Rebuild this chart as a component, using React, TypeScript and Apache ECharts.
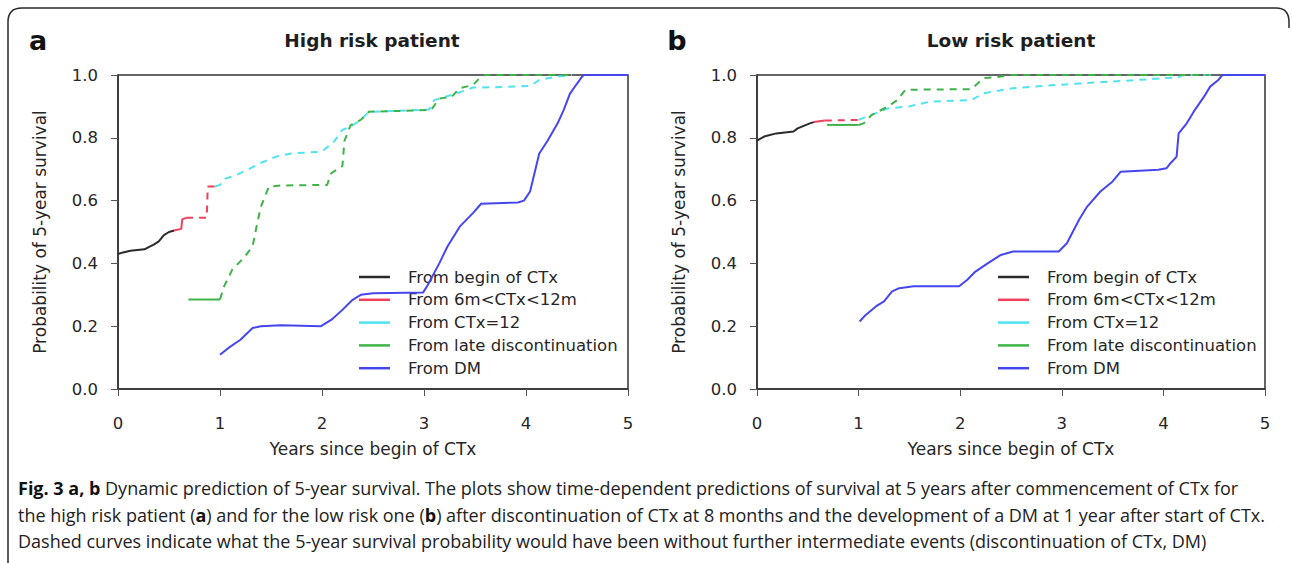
import React, { useEffect, useRef } from 'react';
import * as echarts from 'echarts';

// ---------- data ----------
const legendNames = ['From begin of CTx', 'From 6m<CTx<12m', 'From CTx=12', 'From late discontinuation', 'From DM'];
const lineColors = ['#2a2a2a', '#f0405a', '#4fe3f0', '#3fb24a', '#4646ee'];
const panelTitles = ['High risk patient', 'Low risk patient'];
const panelLetters = ['a', 'b'];
const xTitle = 'Years since begin of CTx';
const yTitle = 'Probability of 5-year survival';
const xTicks = [0, 1, 2, 3, 4, 5];
const yTicks = [0, 0.2, 0.4, 0.6, 0.8, 1.0];

// Panel a (high risk)
const aBegin = [[0, 0.43], [0.05, 0.435], [0.12, 0.44], [0.26, 0.445], [0.3, 0.452], [0.35, 0.46], [0.4, 0.47], [0.45, 0.49], [0.5, 0.5], [0.55, 0.505]];
const aMidSolid = [[0.55, 0.505], [0.62, 0.51], [0.63, 0.54], [0.667, 0.545]];
const aMidDash = [[0.667, 0.545], [0.87, 0.545], [0.88, 0.645], [0.95, 0.645]];
const aCtx12Dash = [[0.95, 0.645], [1.0, 0.65], [1.05, 0.67], [1.15, 0.68], [1.28, 0.7], [1.4, 0.72], [1.55, 0.74], [1.7, 0.75], [2.0, 0.756], [2.05, 0.77], [2.1, 0.78], [2.2, 0.825], [2.3, 0.84], [2.38, 0.857], [2.46, 0.883], [2.7, 0.885], [3.05, 0.89], [3.1, 0.92], [3.2, 0.93], [3.31, 0.94], [3.48, 0.96], [3.8, 0.962], [4.04, 0.965], [4.13, 0.984], [4.3, 0.995], [4.45, 1.0]];
const aLateSolid = [[0.69, 0.285], [1.0, 0.285]];
const aLateDash = [[1.0, 0.285], [1.04, 0.327], [1.12, 0.38], [1.24, 0.42], [1.32, 0.455], [1.36, 0.52], [1.4, 0.58], [1.48, 0.645], [1.6, 0.648], [2.05, 0.65], [2.09, 0.687], [2.2, 0.71], [2.22, 0.79], [2.28, 0.84], [2.38, 0.857], [2.46, 0.883], [2.7, 0.885], [3.07, 0.889], [3.15, 0.925], [3.27, 0.93], [3.35, 0.958], [3.48, 0.968], [3.56, 0.995], [3.6, 1.0], [4.45, 1.0]];
const aDM = [[1.0, 0.109], [1.08, 0.13], [1.2, 0.157], [1.32, 0.194], [1.4, 0.2], [1.6, 0.203], [1.99, 0.2], [2.09, 0.22], [2.2, 0.252], [2.3, 0.284], [2.38, 0.3], [2.5, 0.305], [2.99, 0.307], [3.03, 0.327], [3.15, 0.4], [3.23, 0.454], [3.35, 0.517], [3.48, 0.56], [3.56, 0.59], [3.92, 0.594], [3.98, 0.6], [4.04, 0.629], [4.13, 0.75], [4.21, 0.79], [4.31, 0.846], [4.37, 0.889], [4.43, 0.94], [4.49, 0.968], [4.55, 0.995], [4.57, 1.0], [5, 1.0]];

// Panel b (low risk)
const bBegin = [[0, 0.791], [0.07, 0.804], [0.19, 0.814], [0.36, 0.82], [0.4, 0.83], [0.52, 0.846], [0.56, 0.85]];
const bMidSolid = [[0.56, 0.85], [0.667, 0.855]];
const bMidDash = [[0.667, 0.855], [1.0, 0.857]];
const bCtx12Dash = [[1.0, 0.857], [1.13, 0.873], [1.29, 0.894], [1.5, 0.9], [1.7, 0.915], [2.11, 0.92], [2.23, 0.942], [2.52, 0.958], [2.93, 0.968], [3.33, 0.976], [3.74, 0.984], [4.15, 0.993], [4.19, 1.0], [4.5, 1.0]];
const bLateSolid = [[0.69, 0.841], [1.0, 0.841]];
const bLateDash = [[1.0, 0.841], [1.05, 0.846], [1.13, 0.873], [1.29, 0.9], [1.38, 0.92], [1.46, 0.953], [2.11, 0.955], [2.23, 0.99], [2.4, 0.995], [2.52, 1.0], [4.45, 1.0]];
const bDM = [[1.01, 0.215], [1.07, 0.236], [1.17, 0.263], [1.25, 0.279], [1.33, 0.311], [1.4, 0.321], [1.54, 0.327], [1.99, 0.327], [2.07, 0.348], [2.15, 0.374], [2.27, 0.4], [2.4, 0.427], [2.52, 0.438], [2.97, 0.438], [3.05, 0.464], [3.17, 0.539], [3.25, 0.581], [3.38, 0.629], [3.5, 0.661], [3.58, 0.692], [3.95, 0.698], [4.03, 0.703], [4.07, 0.719], [4.13, 0.74], [4.15, 0.814], [4.23, 0.846], [4.31, 0.889], [4.4, 0.931], [4.46, 0.963], [4.54, 0.984], [4.58, 1.0], [5, 1.0]];

const captionLines = [
  '{b|Fig. 3 a, b} Dynamic prediction of 5-year survival. The plots show time-dependent predictions of survival at 5 years after commencement of CTx for',
  'the high risk patient ({b|a}) and for the low risk one ({b|b}) after discontinuation of CTx at 8 months and the development of a DM at 1 year after start of CTx.',
  'Dashed curves indicate what the 5-year survival probability would have been without further intermediate events (discontinuation of CTx, DM)',
];

// [colorIndex, data, dashed]
const panelSeries: [number, number[][], boolean][][] = [
  [[0, aBegin, false], [1, aMidSolid, false], [1, aMidDash, true], [2, aCtx12Dash, true], [3, aLateSolid, false], [3, aLateDash, true], [4, aDM, false]],
  [[0, bBegin, false], [1, bMidSolid, false], [1, bMidDash, true], [2, bCtx12Dash, true], [3, bLateSolid, false], [3, bLateDash, true], [4, bDM, false]],
];

echarts.graphic.registerShape(
  'frame',
  echarts.graphic.extendPath('M8,563 L8,22 Q8,8 22,8 L1276,8 Q1289,8 1289,22 L1289,28', {})
);

const FONT = 'DejaVu Sans';
const CAPFONT = 'Open Sans';
const TEXT = '#262626';
const gridLefts = [118, 757];
const gridWidths = [510, 508];
const gridTop = 75;
const gridHeight = 314;

export default function App() {
  const ref = useRef<HTMLDivElement>(null);
  useEffect(() => {
    if (!ref.current) return;
    const chart = echarts.init(ref.current, undefined, { renderer: 'svg' });

    const grids = gridLefts.map((l, i) => ({
      left: l, top: gridTop, width: gridWidths[i], height: gridHeight,
      show: true, borderColor: '#333', borderWidth: 1.5, backgroundColor: 'transparent',
    }));
    const xAxes = gridLefts.map((_, i) => ({
      type: 'value', gridIndex: i, min: xTicks[0], max: xTicks[xTicks.length - 1], interval: 1,
      name: xTitle, nameLocation: 'middle', nameGap: 51,
      nameTextStyle: { fontFamily: FONT, fontSize: 17, color: TEXT },
      axisLine: { show: true, onZero: false, lineStyle: { color: '#333', width: 1.5 } },
      axisTick: { show: true, inside: false, length: 7, lineStyle: { color: '#555', width: 1 } },
      axisLabel: { fontFamily: FONT, fontSize: 16.5, color: TEXT, margin: 26 },
      splitLine: { show: false },
    }));
    const yAxes = gridLefts.map((_, i) => ({
      type: 'value', gridIndex: i, min: yTicks[0], max: yTicks[yTicks.length - 1], interval: 0.2,
      name: yTitle, nameLocation: 'middle', nameGap: 70,
      nameTextStyle: { fontFamily: FONT, fontSize: 17, color: TEXT },
      axisLine: { show: true, onZero: false, lineStyle: { color: '#333', width: 1.5 } },
      axisTick: { show: true, inside: false, length: 7, lineStyle: { color: '#555', width: 1 } },
      axisLabel: { fontFamily: FONT, fontSize: 16.5, color: TEXT, margin: 20, formatter: (v: number) => v.toFixed(1) },
      splitLine: { show: false },
    }));

    const series: any[] = [];
    panelSeries.forEach((list, p) => {
      list.forEach(([ci, data, dashed], k) => {
        series.push({
          type: 'line', name: legendNames[ci], xAxisIndex: p, yAxisIndex: p,
          data, symbol: 'none', showSymbol: false, silent: true, z: 2 + k,
          lineStyle: { color: lineColors[ci], width: 2, type: dashed ? [7, 6] : 'solid' },
        });
      });
    });

    const graphic: any[] = [
      { type: 'frame', x: 0, y: 0, style: { stroke: '#2a2a2a', fill: 'none', lineWidth: 1.5 }, silent: true },
    ];
    gridLefts.forEach((l, i) => {
      graphic.push({
        type: 'text', x: l - 80, y: 40,
        style: { text: panelLetters[i], fontFamily: FONT, fontSize: 27, fontWeight: 'bold', fill: '#111', align: 'center', verticalAlign: 'middle', textAlign: 'center', textVerticalAlign: 'middle' },
      });
      graphic.push({
        type: 'text', x: l + 254, y: 40,
        style: { text: panelTitles[i], fontFamily: FONT, fontSize: 18.5, fontWeight: 'bold', fill: '#1e1e1e', align: 'center', verticalAlign: 'middle', textAlign: 'center', textVerticalAlign: 'middle' },
      });
      legendNames.forEach((nm, k) => {
        const y = 277 + k * 22.8;
        graphic.push({
          type: 'line', shape: { x1: l + 241, y1: y, x2: l + 272, y2: y },
          style: { stroke: lineColors[k], lineWidth: 2.5 },
        });
        graphic.push({
          type: 'text', x: l + 290, y,
          style: { text: nm, fontFamily: FONT, fontSize: 16.5, fill: TEXT, align: 'left', verticalAlign: 'middle', textAlign: 'left', textVerticalAlign: 'middle' },
        });
      });
    });
    captionLines.forEach((txt, i) => {
      graphic.push({
        type: 'text', x: 18, y: 488 + i * 26.5,
        style: {
          text: txt, fontFamily: CAPFONT, fontSize: 18, fill: '#222',
          align: 'left', verticalAlign: 'middle', textAlign: 'left', textVerticalAlign: 'middle',
          rich: { b: { fontFamily: CAPFONT, fontSize: 18, fontWeight: 'bold', fill: '#111', color: '#111' } },
        },
      });
    });

    chart.setOption({
      animation: false,
      backgroundColor: '#ffffff',
      grid: grids,
      xAxis: xAxes,
      yAxis: yAxes,
      series,
      graphic,
    });
    return () => chart.dispose();
  }, []);

  return <div ref={ref} style={{ position: 'absolute', left: 0, top: 0, width: 1292, height: 563 }} />;
}
